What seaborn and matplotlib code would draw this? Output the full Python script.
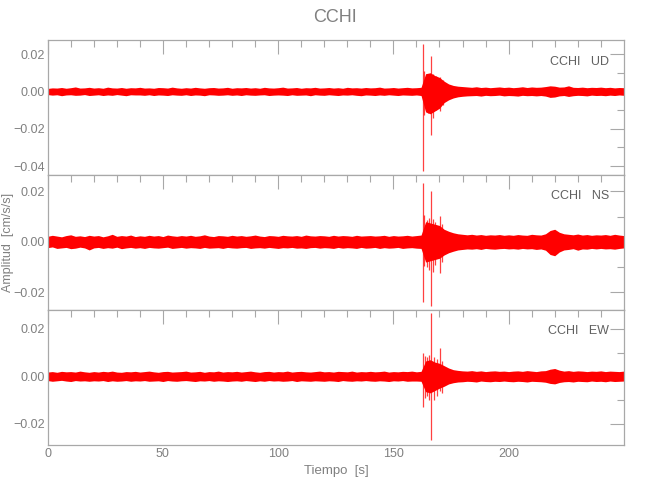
import numpy as np
import matplotlib
matplotlib.use("Agg")
import matplotlib.pyplot as plt
import seaborn as sns
from matplotlib.ticker import MultipleLocator, FuncFormatter

# Envelope of each trace, one value every 2 s from 0 to 250 s, units of 1e-3 cm/s/s
step_s = 2
ud_hi = [1.6, 1.9, 1.8, 2.1, 1.7, 2.0, 2.4, 1.8, 1.9, 2.2,
         1.8, 2.0, 1.7, 2.3, 1.9, 1.8, 2.1, 1.7, 2.0, 1.9,
         2.2, 1.8, 1.9, 1.7, 2.1, 2.0, 1.8, 2.3, 1.9, 1.7,
         2.0, 1.8, 2.2, 1.9, 1.7, 2.0, 2.1, 1.8, 1.9, 2.2,
         1.7, 2.0, 1.9, 2.1, 1.8, 2.0, 1.7, 2.2, 1.9, 1.8,
         2.0, 2.3, 1.8, 1.9, 2.1, 1.7, 2.0, 1.9, 2.2, 1.8,
         1.9, 2.1, 1.8, 2.0, 1.7, 2.2, 1.9, 2.0, 1.8, 2.1,
         1.9, 2.0, 2.3, 1.8, 1.9, 2.1, 1.8, 2.0, 2.2, 1.9,
         2.0, 2.2, 9.5, 10.0, 8.5, 7.5, 5.5, 4.0, 3.2, 2.8,
         2.6, 2.4, 2.2, 2.5, 2.1, 2.3, 2.0, 2.2, 2.4, 2.1,
         2.3, 2.0, 2.2, 2.5, 2.1, 2.4, 2.2, 2.3, 2.6, 3.0,
         2.8, 2.3, 2.4, 3.0, 2.2, 2.1, 2.3, 2.0, 2.2, 2.1,
         2.3, 2.0, 2.2, 1.9, 2.1, 2.0]
ud_lo = [-1.7, -2.0, -1.8, -2.3, -1.9, -1.8, -2.1, -2.0, -1.7, -2.2,
         -2.0, -1.8, -2.2, -1.9, -2.1, -1.7, -2.0, -2.3, -1.8, -1.9,
         -1.9, -2.1, -1.8, -2.2, -1.9, -2.0, -2.2, -1.8, -2.0, -2.1,
         -1.8, -2.2, -1.9, -2.0, -2.3, -1.8, -1.9, -2.1, -2.0, -1.8,
         -2.1, -1.9, -2.2, -1.8, -2.0, -2.1, -1.9, -1.8, -2.2, -2.0,
         -1.9, -2.0, -2.2, -1.8, -2.1, -2.0, -1.9, -2.3, -1.8, -2.0,
         -2.1, -1.8, -2.0, -2.2, -1.9, -2.0, -1.8, -2.1, -2.3, -1.9,
         -2.0, -2.2, -1.9, -2.1, -1.8, -2.0, -2.2, -1.9, -2.0, -2.1,
         -1.9, -2.2, -11.0, -12.0, -10.5, -9.0, -6.0, -4.5, -3.5, -2.9,
         -2.6, -2.4, -2.3, -2.2, -2.5, -2.1, -2.3, -2.2, -2.0, -2.4,
         -2.2, -2.3, -2.5, -2.1, -2.3, -2.2, -2.4, -2.2, -2.5, -3.2,
         -3.0, -2.4, -2.2, -2.7, -2.3, -2.1, -2.2, -2.4, -2.0, -2.2,
         -2.1, -2.3, -2.0, -2.2, -1.9, -2.1]

ns_hi = [2.2, 2.6, 2.3, 2.0, 2.5, 2.8, 2.2, 2.4, 2.1, 2.6,
         2.3, 2.5, 2.0, 2.4, 3.0, 2.2, 2.5, 2.3, 2.7, 2.1,
         2.4, 2.2, 2.6, 2.3, 2.5, 2.1, 2.7, 2.4, 2.2, 2.5,
         2.3, 2.6, 2.2, 2.4, 2.8, 2.3, 2.1, 2.5, 2.4, 2.2,
         2.6, 2.3, 2.5, 2.2, 2.4, 2.7, 2.3, 2.1, 2.5, 2.4,
         2.2, 2.6, 2.4, 2.3, 2.5, 2.2, 2.7, 2.4, 2.3, 2.5,
         2.4, 2.2, 2.6, 2.3, 2.5, 2.4, 2.2, 2.6, 2.3, 2.4,
         2.5, 2.3, 2.4, 2.6, 2.2, 2.5, 2.3, 2.4, 2.6, 2.3,
         2.5, 2.7, 8.0, 7.5, 7.0, 6.5, 5.0, 4.2, 3.6, 3.2,
         3.0, 2.8, 3.0, 2.7, 2.9, 2.6, 2.8, 2.7, 2.9, 2.6,
         2.8, 2.6, 2.9, 2.7, 2.6, 3.0, 2.8, 2.7, 3.2, 4.5,
         5.0, 3.8, 3.2, 3.0, 2.8, 3.1, 2.7, 2.9, 2.6, 2.8,
         2.7, 2.9, 2.6, 3.0, 2.7, 2.5]
ns_lo = [-2.3, -2.0, -2.6, -2.4, -2.2, -2.7, -2.5, -2.1, -2.4, -3.2,
         -2.4, -2.2, -2.6, -2.3, -2.5, -2.1, -2.7, -2.4, -2.2, -2.5,
         -2.3, -2.6, -2.2, -2.4, -2.5, -2.3, -2.1, -2.6, -2.4, -2.2,
         -2.5, -2.3, -2.4, -2.6, -2.2, -2.5, -2.4, -2.3, -2.6, -2.2,
         -2.4, -2.5, -2.3, -2.2, -2.6, -2.4, -2.3, -2.5, -2.2, -2.4,
         -2.6, -2.3, -2.4, -2.2, -2.5, -2.4, -2.6, -2.3, -2.2, -2.5,
         -2.3, -2.4, -2.6, -2.2, -2.5, -2.3, -2.4, -2.6, -2.2, -2.5,
         -2.4, -2.2, -2.6, -2.3, -2.5, -2.4, -2.2, -2.6, -2.4, -2.3,
         -2.5, -2.6, -8.0, -7.5, -7.0, -6.5, -5.2, -4.3, -3.7, -3.2,
         -3.0, -2.8, -2.9, -2.7, -3.0, -2.6, -2.8, -2.9, -2.7, -2.6,
         -2.8, -2.7, -2.9, -2.6, -2.8, -2.7, -3.0, -2.8, -3.3, -5.0,
         -5.5, -4.0, -3.2, -3.0, -2.7, -3.3, -2.8, -2.9, -2.6, -2.8,
         -2.6, -2.8, -2.7, -2.9, -2.6, -2.4]

ew_hi = [1.8, 2.0, 1.7, 2.1, 1.9, 2.0, 1.8, 2.2, 1.9, 1.7,
         2.0, 1.8, 2.1, 1.9, 2.2, 1.8, 1.7, 2.0, 1.9, 2.1,
         1.8, 2.0, 2.2, 1.9, 1.7, 2.0, 2.1, 1.8, 1.9, 2.0,
         2.2, 1.8, 1.9, 2.1, 1.7, 2.0, 1.9, 2.2, 1.8, 2.0,
         1.9, 2.1, 1.8, 2.0, 2.2, 1.9, 1.7, 2.0, 2.1, 1.8,
         2.0, 1.9, 2.2, 1.8, 2.0, 2.1, 1.9, 1.8, 2.0, 2.2,
         1.9, 2.0, 1.8, 2.1, 2.0, 1.9, 2.2, 1.8, 2.0, 1.9,
         2.1, 1.9, 2.0, 2.2, 1.8, 2.0, 1.9, 2.1, 2.0, 2.2,
         1.9, 2.1, 6.5, 7.0, 6.0, 5.5, 4.5, 3.5, 2.8, 2.5,
         2.3, 2.2, 2.4, 2.1, 2.3, 2.0, 2.2, 2.3, 2.1, 2.2,
         2.0, 2.2, 2.3, 2.1, 2.4, 2.2, 2.0, 2.3, 2.4, 3.0,
         3.3, 2.6, 2.2, 2.4, 2.1, 2.3, 2.2, 2.0, 2.2, 2.1,
         2.3, 2.0, 2.2, 2.1, 2.0, 2.2]
ew_lo = [-1.8, -2.1, -1.9, -1.7, -2.0, -2.2, -1.8, -2.0, -1.9, -2.1,
         -1.9, -2.0, -1.8, -2.2, -1.9, -2.1, -2.0, -1.8, -2.1, -1.9,
         -2.0, -1.8, -2.1, -2.0, -1.9, -2.2, -1.8, -2.0, -2.1, -1.9,
         -1.8, -2.0, -2.2, -1.9, -2.0, -1.8, -2.1, -1.9, -2.0, -2.2,
         -2.0, -1.9, -2.1, -1.8, -2.0, -2.2, -1.9, -2.1, -1.8, -2.0,
         -1.9, -2.1, -2.0, -1.8, -2.2, -1.9, -2.0, -2.1, -1.9, -2.0,
         -2.1, -1.9, -2.0, -2.2, -1.8, -2.0, -2.1, -1.9, -2.0, -1.8,
         -2.0, -2.1, -1.9, -2.0, -2.2, -1.9, -2.0, -1.8, -2.1, -2.0,
         -2.0, -2.1, -6.5, -7.0, -6.0, -5.0, -4.2, -3.2, -2.7, -2.4,
         -2.3, -2.1, -2.2, -2.4, -2.0, -2.2, -2.3, -2.1, -2.2, -2.0,
         -2.2, -2.3, -2.1, -2.2, -2.4, -2.1, -2.2, -2.3, -2.5, -3.0,
         -3.2, -2.6, -2.3, -2.2, -2.4, -2.1, -2.2, -2.3, -2.0, -2.2,
         -2.1, -2.3, -2.0, -2.2, -2.1, -2.0]

# Individual large swings during the event (time s, max, min in 1e-3 cm/s/s)
ud_spk_t = [162.9, 163.4, 164.2, 165.0, 166.4, 167.4, 168.6, 170.3, 171.5]
ud_spk_hi = [25.3, 11.0, 8.5, 9.0, 19.1, 9.5, 8.0, 7.5, 6.0]
ud_spk_lo = [-42.8, -12.5, -10.0, -11.5, -23.3, -14.0, -10.0, -10.7, -7.5]
ns_spk_t = [162.9, 163.5, 164.5, 165.3, 166.2, 167.0, 168.0, 170.3, 171.2]
ns_spk_hi = [23.5, 10.5, 8.5, 9.5, 20.0, 9.0, 8.0, 10.3, 7.0]
ns_spk_lo = [-24.0, -9.5, -10.0, -11.0, -25.3, -12.0, -9.0, -12.5, -8.0]
ew_spk_t = [163.0, 163.6, 164.6, 165.4, 166.2, 167.8, 168.8, 170.3, 171.0]
ew_spk_hi = [9.9, 8.5, 8.0, 9.0, 26.7, 8.0, 7.5, 12.0, 6.5]
ew_spk_lo = [-12.9, -9.0, -8.5, -10.0, -27.0, -9.8, -8.5, -6.3, -7.0]

components = ["UD", "NS", "EW"]
station = "CCHI"
unit = 1e-3

sns.set_theme(style="white")
plt.rcParams["font.family"] = ["Liberation Sans", "DejaVu Sans"]
grey = "#808080"
spine_grey = "#a8a8a8"

traces = {
    "UD": (ud_hi, ud_lo, ud_spk_t, ud_spk_hi, ud_spk_lo, (-0.0448, 0.0274)),
    "NS": (ns_hi, ns_lo, ns_spk_t, ns_spk_hi, ns_spk_lo, (-0.0270, 0.0265)),
    "EW": (ew_hi, ew_lo, ew_spk_t, ew_spk_hi, ew_spk_lo, (-0.0290, 0.0280)),
}

fig = plt.figure(figsize=(6.5, 5), dpi=100)
left, width = 0.0734, 0.886
bottoms = [0.65, 0.38, 0.11]
heights = [0.2694, 0.27, 0.27]

minus_fmt = FuncFormatter(lambda v, p: f"{v:.2f}".replace("-", "\u2212") if abs(v) > 1e-9 else "0.00")

for i, comp in enumerate(components):
    hi, lo, st, sh, sl, ylim = traces[comp]
    t = np.arange(len(hi)) * step_s
    ax = fig.add_axes([left, bottoms[i], width, heights[i]])
    ax.fill_between(t, np.array(lo) * unit, np.array(hi) * unit, color="red", lw=0, zorder=2)
    ax.vlines(st, np.array(sl) * unit, np.array(sh) * unit, color="red", lw=0.9, alpha=0.75, zorder=3)

    ax.set_xlim(0, 249.9)
    ax.set_ylim(*ylim)
    ax.xaxis.set_major_locator(MultipleLocator(50))
    ax.xaxis.set_minor_locator(MultipleLocator(10))
    ax.yaxis.set_major_locator(MultipleLocator(0.02))
    ax.yaxis.set_minor_locator(MultipleLocator(0.01))
    ax.yaxis.set_major_formatter(minus_fmt)
    ax.tick_params(which="both", direction="in", top=True, right=True, color=spine_grey,
                   labelcolor=grey, labelsize=9, width=0.8, pad=2)
    ax.tick_params(which="major", length=10)
    ax.tick_params(which="minor", length=5)
    for s in ax.spines.values():
        s.set_color(spine_grey)
        s.set_linewidth(0.9)
    if i < 2:
        ax.set_xticklabels([])
    ax.text(0.975, 0.842, f"{station}   {comp}", transform=ax.transAxes, ha="right",
            va="center", color="#606060", fontsize=9)

fig.text(0.516, 0.964, station, ha="center", va="center", color=grey, fontsize=13)
fig.text(0.517, 0.058, "Tiempo  [s]", ha="center", va="center", color=grey, fontsize=9.5)
fig.text(0.012, 0.515, "Amplitud  [cm/s/s]", ha="center", va="center", rotation=90,
         color=grey, fontsize=9)

fig.savefig("out.png", dpi=100, facecolor="white")
